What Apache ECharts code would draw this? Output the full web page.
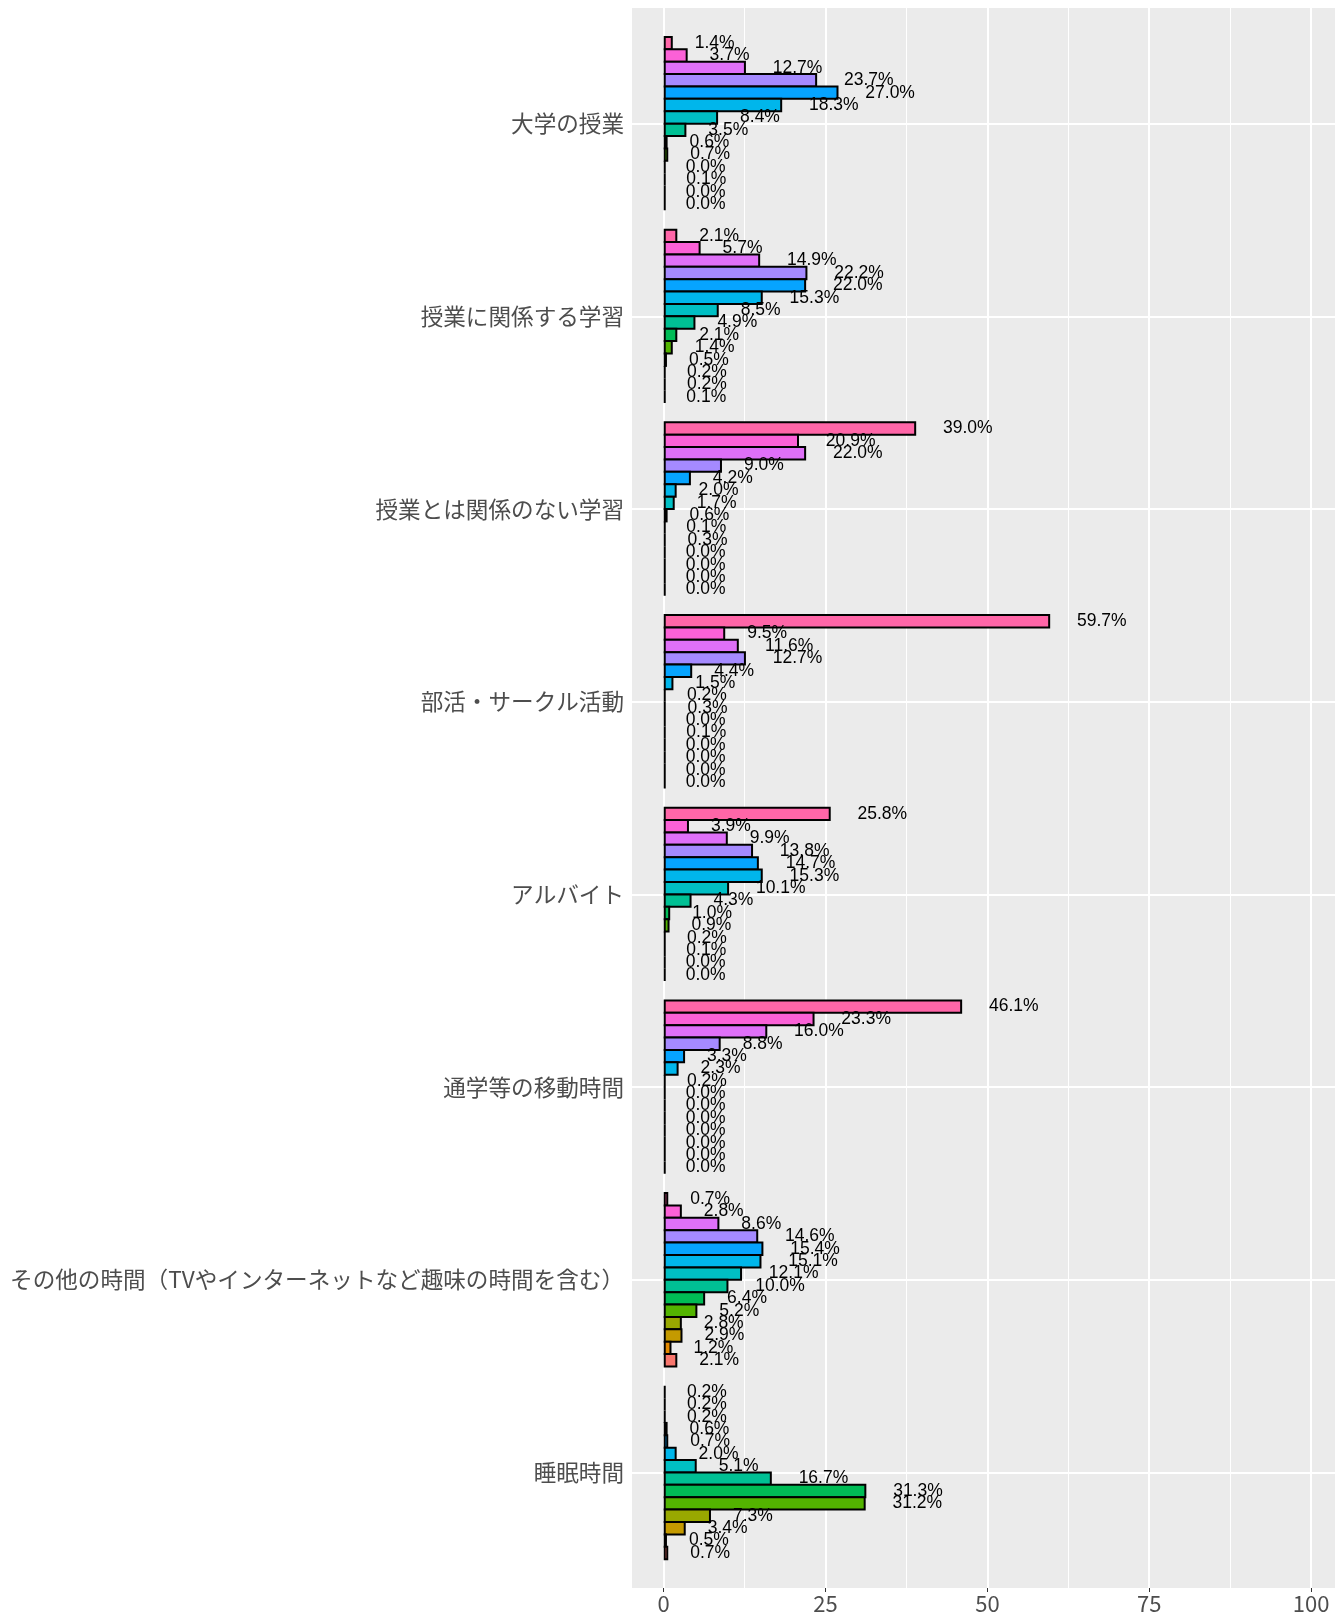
<!DOCTYPE html>
<html><head><meta charset="utf-8">
<script src="https://cdn.jsdelivr.net/npm/echarts@6/dist/echarts.min.js"></script>
<style>html,body{margin:0;padding:0;background:#fff}#c{width:1335px;height:1618px}</style>
</head><body><div id="c"></div>
<script>
const categories = ['大学の授業','授業に関係する学習','授業とは関係のない学習','部活・サークル活動','アルバイト','通学等の移動時間','その他の時間（TVやインターネットなど趣味の時間を含む）','睡眠時間'];
const seriesNames = ['区分1','区分2','区分3','区分4','区分5','区分6','区分7','区分8','区分9','区分10','区分11','区分12','区分13','区分14'];
const colors = ['#FF66A8','#FB61D7','#DF70F8','#A58AFF','#06A4FF','#00B6EB','#00BFC4','#00C094','#00BC56','#53B400','#99A800','#C49A00','#E38900','#F8766D'];
// values (%) per category, one entry per series (top to bottom)
const daigakuJugyo   = [1.4, 3.7, 12.7, 23.7, 27.0, 18.3, 8.4, 3.5, 0.6, 0.7, 0.0, 0.1, 0.0, 0.0];
const jugyoKankei    = [2.1, 5.7, 14.9, 22.2, 22.0, 15.3, 8.5, 4.9, 2.1, 1.4, 0.5, 0.2, 0.2, 0.1];
const jugyoMukankei  = [39.0, 20.9, 22.0, 9.0, 4.2, 2.0, 1.7, 0.6, 0.1, 0.3, 0.0, 0.0, 0.0, 0.0];
const bukatsu        = [59.7, 9.5, 11.6, 12.7, 4.4, 1.5, 0.2, 0.3, 0.0, 0.1, 0.0, 0.0, 0.0, 0.0];
const arubaito       = [25.8, 3.9, 9.9, 13.8, 14.7, 15.3, 10.1, 4.3, 1.0, 0.9, 0.2, 0.1, 0.0, 0.0];
const tsugaku        = [46.1, 23.3, 16.0, 8.8, 3.3, 2.3, 0.2, 0.0, 0.0, 0.0, 0.0, 0.0, 0.0, 0.0];
const sonota         = [0.7, 2.8, 8.6, 14.6, 15.4, 15.1, 12.1, 10.0, 6.4, 5.2, 2.8, 2.9, 1.2, 2.1];
const suimin         = [0.2, 0.2, 0.2, 0.6, 0.7, 2.0, 5.1, 16.7, 31.3, 31.2, 7.3, 3.4, 0.5, 0.7];
const categoryValues = [daigakuJugyo, jugyoKankei, jugyoMukankei, bukatsu, arubaito, tsugaku, sonota, suimin];
const xTicks = [0, 25, 50, 75, 100];
const xMinor = [12.5, 37.5, 62.5, 87.5];

const LABEL_FONT_SIZE = 17.5;
const LABEL_FONT = 'Liberation Sans';
const ctx = document.createElement('canvas').getContext('2d');
ctx.font = LABEL_FONT_SIZE + 'px "' + LABEL_FONT + '"';
const fmt = v => v.toFixed(1) + '%';

// overlapping bars so neighbouring borders are shared (like ggplot)
const BAR_GAP = '-13.9%';
const CAT_GAP = '8.97%';

const chart = echarts.init(document.getElementById('c'));

// bars (grid 1)
const barSeries = seriesNames.map((name, i) => ({
  name: name,
  type: 'bar',
  xAxisIndex: 1, yAxisIndex: 1,
  barGap: BAR_GAP, barCategoryGap: CAT_GAP, barMinHeight: 2,
  z: 20,
  itemStyle: {color: colors[i], borderColor: '#000000', borderWidth: 2},
  label: {show: false},
  data: categoryValues.map(arr => arr[i] < 0.35
    ? {value: arr[i], itemStyle: {color: '#000000'}}
    : arr[i])
}));
// identical transparent layer on top (grid 2) carrying the value labels
const labelSeries = seriesNames.map((name, i) => ({
  name: name,
  type: 'bar',
  xAxisIndex: 2, yAxisIndex: 2,
  barGap: BAR_GAP, barCategoryGap: CAT_GAP,
  z: 30, silent: true,
  itemStyle: {color: 'rgba(0,0,0,0)', borderWidth: 0},
  label: {show: true, position: 'right', color: '#000000', fontSize: LABEL_FONT_SIZE, fontFamily: LABEL_FONT,
    formatter: p => fmt(p.value)},
  data: categoryValues.map(arr => ({
    value: arr[i],
    label: {distance: 2 + ctx.measureText(fmt(arr[i])).width / 2}
  }))
}));

const hiddenX = gi => ({gridIndex: gi, type: 'value', min: -4.9, max: 103.7, show: false});
const option = {
  animation: false,
  backgroundColor: '#FFFFFF',
  grid: [
    {left: 632, right: 0, top: 8, bottom: 30, show: true, backgroundColor: '#EBEBEB', borderWidth: 0},
    {left: 632, right: 0, top: 27.3, bottom: 49.2},
    {left: 632, right: 0, top: 27.3, bottom: 49.2}
  ],
  xAxis: [
    {gridIndex: 0, type: 'value', min: -4.9, max: 103.7,
      axisLine: {show: false}, splitLine: {show: false},
      axisTick: {show: true, customValues: xTicks, length: 4, lineStyle: {color: '#333333', width: 1}},
      axisLabel: {customValues: xTicks, color: '#4D4D4D', fontSize: 22, fontFamily: 'Noto Sans CJK JP', margin: 5}},
    hiddenX(1),
    hiddenX(2)
  ],
  yAxis: [
    {gridIndex: 0, type: 'value', min: 0, max: 1, show: false},
    {gridIndex: 1, type: 'category', data: categories, inverse: true,
      axisLine: {show: false}, splitLine: {show: false},
      axisTick: {show: true, alignWithLabel: true, interval: 0, length: 4, lineStyle: {color: '#333333', width: 1}},
      axisLabel: {interval: 0, color: '#4D4D4D', fontSize: 22.6, fontFamily: 'Noto Sans CJK JP', margin: 8}},
    {gridIndex: 2, type: 'category', data: categories, inverse: true, show: false}
  ],
  series: [
    {type: 'line', xAxisIndex: 0, yAxisIndex: 0, data: [[0, 0.5]], showSymbol: false, silent: true, z: 0,
      lineStyle: {opacity: 0},
      markLine: {z: 1, silent: true, symbol: ['none', 'none'], label: {show: false}, animation: false,
        data: xTicks.map(v => ({xAxis: v, lineStyle: {color: '#FFFFFF', width: 2, type: 'solid'}}))
          .concat(xMinor.map(v => ({xAxis: v, lineStyle: {color: '#FFFFFF', width: 1, type: 'solid'}})))}},
    {type: 'line', xAxisIndex: 1, yAxisIndex: 1, data: categories.map(c => [0, c]), showSymbol: false, silent: true, z: 1,
      lineStyle: {opacity: 0},
      markLine: {z: 1, silent: true, symbol: ['none', 'none'], label: {show: false}, animation: false,
        data: categories.map(c => ({yAxis: c, lineStyle: {color: '#FFFFFF', width: 2, type: 'solid'}}))}}
  ].concat(barSeries, labelSeries)
};
chart.setOption(option);
</script>
</body></html>
